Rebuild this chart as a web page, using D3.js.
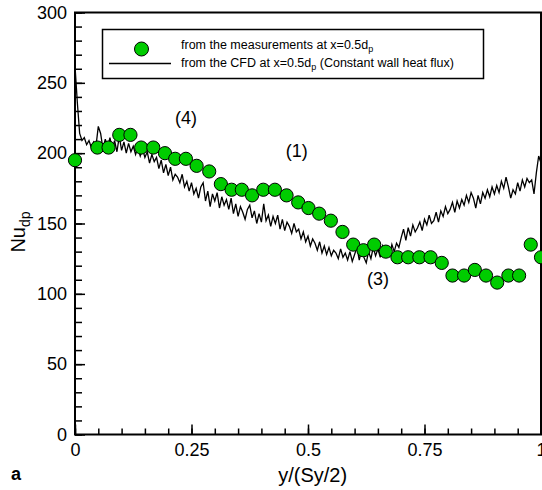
<!DOCTYPE html>
<html>
<head>
<meta charset="utf-8">
<script src="https://cdn.jsdelivr.net/npm/d3@7/dist/d3.min.js"></script>
<style>
  html, body { margin: 0; padding: 0; background: #fff; }
  svg { display: block; font-family: "Liberation Sans", Arial, sans-serif; }
</style>
</head>
<body>
<svg id="chart" width="542" height="490"></svg>
<script>
// Measured Nusselt number along y/(Sy/2) at x = 0.5 dp
const measX = [0, 0.048, 0.072, 0.095, 0.119, 0.142, 0.168, 0.193, 0.215, 0.238, 0.261, 0.288, 0.313, 0.336, 0.358, 0.380, 0.404, 0.429, 0.454, 0.479, 0.501, 0.524, 0.549, 0.574, 0.597, 0.619, 0.642, 0.667, 0.692, 0.715, 0.739, 0.763, 0.787, 0.810, 0.835, 0.858, 0.882, 0.906, 0.930, 0.953, 0.978, 1.0];
const measNu = [195, 204, 204, 213, 213, 204, 204, 200, 196, 196, 191, 187, 178, 174, 174, 170, 174, 174, 170, 165, 161, 157, 152, 144, 135, 131, 135, 130, 126, 126, 126, 126, 122, 113, 113, 117, 113, 108, 113, 113, 135, 126];

// CFD profile (constant wall heat flux) at x = 0.5 dp
const cfdX = [0.000,0.005,0.010,0.015,0.020,0.025,0.030,0.035,0.040,0.045,0.050,0.055,0.060,0.065,0.070,0.075,0.080,0.085,0.090,0.095,
  0.100,0.105,0.110,0.115,0.120,0.125,0.130,0.135,0.140,0.145,0.150,0.155,0.160,0.165,0.170,0.175,0.180,0.185,0.190,0.195,
  0.200,0.205,0.210,0.215,0.220,0.225,0.230,0.235,0.240,0.245,0.250,0.255,0.260,0.265,0.270,0.275,0.280,0.285,0.290,0.295,
  0.300,0.305,0.310,0.315,0.320,0.325,0.330,0.335,0.340,0.345,0.350,0.355,0.360,0.365,0.370,0.375,0.380,0.385,0.390,0.395,
  0.400,0.405,0.410,0.415,0.420,0.425,0.430,0.435,0.440,0.445,0.450,0.455,0.460,0.465,0.470,0.475,0.480,0.485,0.490,0.495,
  0.500,0.505,0.510,0.515,0.520,0.525,0.530,0.535,0.540,0.545,0.550,0.555,0.560,0.565,0.570,0.575,0.580,0.585,0.590,0.595,
  0.600,0.605,0.610,0.615,0.620,0.625,0.630,0.635,0.640,0.645,0.650,0.655,0.660,0.665,0.670,0.675,0.680,0.685,0.690,0.695,
  0.700,0.705,0.710,0.715,0.720,0.725,0.730,0.735,0.740,0.745,0.750,0.755,0.760,0.765,0.770,0.775,0.780,0.785,0.790,0.795,
  0.800,0.805,0.810,0.815,0.820,0.825,0.830,0.835,0.840,0.845,0.850,0.855,0.860,0.865,0.870,0.875,0.880,0.885,0.890,0.895,
  0.900,0.905,0.910,0.915,0.920,0.925,0.930,0.935,0.940,0.945,0.950,0.955,0.960,0.965,0.970,0.975,0.980,0.985,0.990,0.995,1.000];
const cfdNu = [262,236,214,209,211,206,209,204,208,205,219,214,203,210,204,211,203,209,201,212,
  202,208,200,207,201,205,199,204,198,203,197,201,193,199,194,197,189,195,186,192,
  184,190,181,185,183,179,185,176,180,173,179,171,175,168,176,179,166,173,162,171,
  166,172,161,169,163,167,160,168,157,164,155,162,158,153,160,163,154,159,150,157,
  151,164,152,156,148,155,150,156,146,153,145,151,148,143,150,144,146,139,144,137,
  141,134,139,136,131,137,129,134,128,133,127,131,129,125,132,126,129,124,130,123,
  128,133,124,131,126,122,130,125,133,127,132,126,134,129,131,127,135,130,136,133,
  140,146,138,147,141,149,144,147,151,145,153,149,156,150,152,158,151,159,155,162,
  157,160,165,158,166,161,167,163,170,165,172,168,161,170,164,172,168,174,169,176,
  171,177,172,180,175,183,176,168,174,171,179,173,181,176,182,179,181,171,186,198,193];

const xTicks = [0, 0.25, 0.5, 0.75, 1];
const xTickLabels = ["0", "0.25", "0.5", "0.75", "1"];
const yTicks = [0, 50, 100, 150, 200, 250, 300];

const legendLabels = [
  ["from the measurements at x=0.5d", "p", ""],
  ["from the CFD at x=0.5d", "p", " (Constant wall heat flux)"]
];
const annotations = [
  { text: "(4)", x: 0.238, y: 221 },
  { text: "(1)", x: 0.476, y: 197 },
  { text: "(3)", x: 0.650, y: 106 }
];

const svg = d3.select("#chart");
const plotL = 75, plotR = 541, plotT = 12.5, plotB = 434.5;

const x = d3.scaleLinear().domain([0, 1]).range([plotL, plotR]);
const y = d3.scaleLinear().domain([0, 300]).range([plotB, plotT]);

// minor ticks (no labels)
const minorX = d3.range(0, 1.0001, 0.05);
const minorY = d3.range(0, 300.01, 10);

svg.append("g")
  .attr("transform", `translate(0,${plotB})`)
  .call(d3.axisBottom(x).tickValues(minorX).tickSize(-6).tickFormat(""))
  .call(g => g.select(".domain").remove())
  .call(g => g.selectAll("line").attr("stroke", "#000").attr("stroke-width", 1.5));

svg.append("g")
  .attr("transform", `translate(${plotL},0)`)
  .call(d3.axisLeft(y).tickValues(minorY).tickSize(-7).tickFormat(""))
  .call(g => g.select(".domain").remove())
  .call(g => g.selectAll("line").attr("stroke", "#000").attr("stroke-width", 1.5));

// major axes
const xAxis = svg.append("g")
  .attr("transform", `translate(0,${plotB})`)
  .call(d3.axisBottom(x).tickValues(xTicks).tickSize(-10).tickPadding(9)
    .tickFormat((d, i) => xTickLabels[i]));
xAxis.select(".domain").remove();
xAxis.selectAll("line").attr("stroke", "#000").attr("stroke-width", 1.5);
xAxis.selectAll("text").attr("font-size", 18).attr("fill", "#000")
  .attr("font-family", "Liberation Sans, Arial, sans-serif").attr("dy", "0.71em");

const yAxis = svg.append("g")
  .attr("transform", `translate(${plotL},0)`)
  .call(d3.axisLeft(y).tickValues(yTicks).tickSize(-10).tickPadding(8));
yAxis.select(".domain").remove();
yAxis.selectAll("line").attr("stroke", "#000").attr("stroke-width", 1.5);
yAxis.selectAll("text").attr("font-size", 18).attr("fill", "#000")
  .attr("font-family", "Liberation Sans, Arial, sans-serif");

// frame
svg.append("rect")
  .attr("x", plotL).attr("y", plotT)
  .attr("width", plotR - plotL).attr("height", plotB - plotT)
  .attr("fill", "none").attr("stroke", "#000").attr("stroke-width", 2);

// CFD line
const cfd = cfdX.map((v, i) => [v, cfdNu[i]]);
svg.append("path")
  .datum(cfd)
  .attr("fill", "none")
  .attr("stroke", "#000")
  .attr("stroke-width", 1.3)
  .attr("stroke-linejoin", "miter")
  .attr("d", d3.line().x(d => x(d[0])).y(d => y(d[1])));

// measurement markers
svg.append("g").selectAll("circle")
  .data(measX.map((v, i) => [v, measNu[i]]))
  .join("circle")
  .attr("cx", d => x(d[0]))
  .attr("cy", d => y(d[1]))
  .attr("r", 6.6)
  .attr("fill", "#00cc00")
  .attr("stroke", "#000")
  .attr("stroke-width", 1);

// annotations
svg.append("g").selectAll("text")
  .data(annotations)
  .join("text")
  .attr("x", d => x(d.x))
  .attr("y", d => y(d.y))
  .attr("text-anchor", "middle")
  .attr("font-size", 18)
  .text(d => d.text);

// legend
const lg = svg.append("g");
lg.append("rect")
  .attr("x", 102.5).attr("y", 29.5).attr("width", 381).attr("height", 49)
  .attr("fill", "#fff").attr("stroke", "#000").attr("stroke-width", 1.5);
lg.append("circle")
  .attr("cx", 141.5).attr("cy", 49).attr("r", 7)
  .attr("fill", "#00cc00").attr("stroke", "#000").attr("stroke-width", 1);
lg.append("line")
  .attr("x1", 109).attr("x2", 171).attr("y1", 63.5).attr("y2", 63.5)
  .attr("stroke", "#000").attr("stroke-width", 1.5);
legendLabels.forEach((parts, i) => {
  const t = lg.append("text")
    .attr("x", 181).attr("y", 48.5 + i * 18.5)
    .attr("font-size", 12.5);
  t.append("tspan").text(parts[0]);
  t.append("tspan").attr("font-size", 9).attr("dy", 3).text(parts[1]);
  t.append("tspan").attr("dy", -3).text(parts[2]);
});

// axis titles
svg.append("text")
  .attr("x", x(0.51)).attr("y", 482)
  .attr("text-anchor", "middle")
  .attr("font-size", 20)
  .text("y/(Sy/2)");

const yt = svg.append("text")
  .attr("transform", "translate(25,232) rotate(-90)")
  .attr("text-anchor", "middle")
  .attr("font-size", 20);
yt.append("tspan").text("Nu");
yt.append("tspan").attr("font-size", 14).attr("dy", 5).text("dp");

// panel label
svg.append("text")
  .attr("x", 11).attr("y", 480)
  .attr("font-size", 18).attr("font-weight", "bold")
  .text("a");
</script>
</body>
</html>
